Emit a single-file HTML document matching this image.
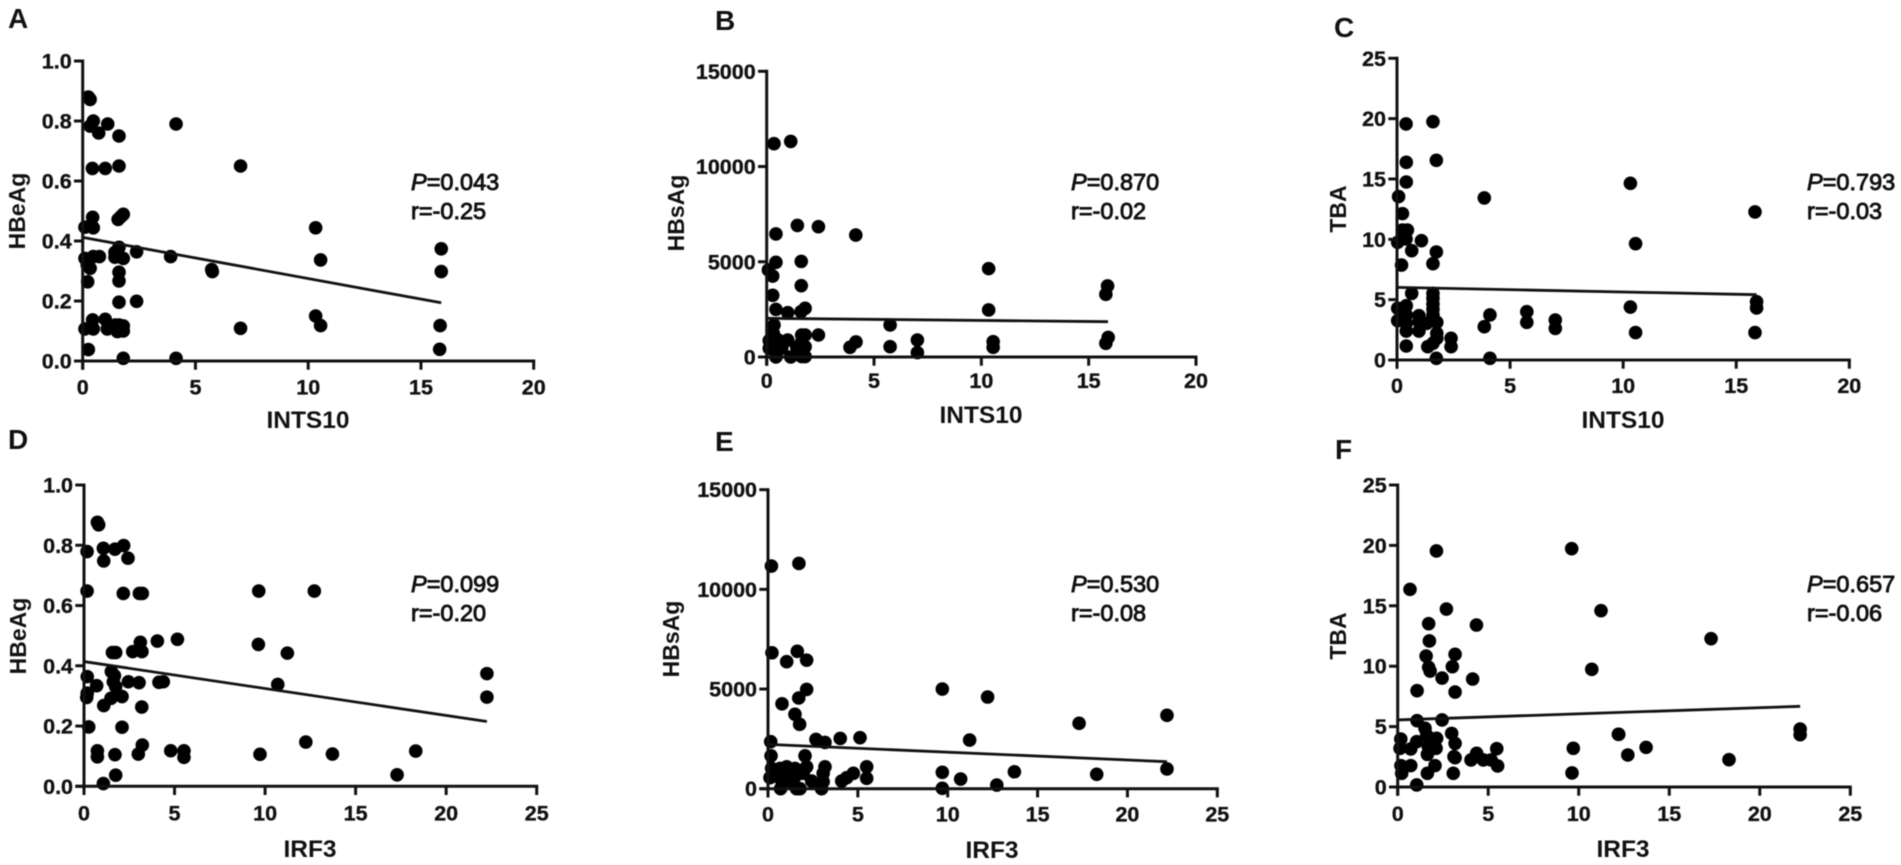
<!DOCTYPE html>
<html lang="en">
<head>
<meta charset="utf-8">
<title>Correlation scatter plots of INTS10 and IRF3 with HBeAg, HBsAg and TBA</title>
<style>
html,body{margin:0;padding:0;background:#fff;width:1901px;height:865px;overflow:hidden}
svg{display:block;filter:blur(0.4px)}
text{font-family:"Liberation Sans",Arial,sans-serif;fill:#111}
.tick{font-size:21.5px;font-weight:bold;stroke:#111;stroke-width:.35px}
.title{font-size:23px;font-weight:bold;text-anchor:middle}
.xtitle{font-size:24.5px}
.note{font-size:23.5px;stroke:#111;stroke-width:.9px}
.letter{font-size:28px;font-weight:bold}
</style>
</head>
<body>
<svg id="figure" width="1901" height="865" viewBox="0 0 1901 865" xmlns="http://www.w3.org/2000/svg">
  <rect x="0" y="0" width="1901" height="865" fill="#fff"/>

  <text class="letter" x="8" y="28">A</text>
  <text class="letter" x="715" y="30">B</text>
  <text class="letter" x="1334" y="37">C</text>
  <text class="letter" x="8" y="449">D</text>
  <text class="letter" x="715" y="451">E</text>
  <text class="letter" x="1335" y="459">F</text>

  <text class="title xtitle" x="308" y="428">INTS10</text>
  <text class="title xtitle" x="981" y="423">INTS10</text>
  <text class="title xtitle" x="1623" y="428">INTS10</text>
  <text class="title xtitle" x="310" y="857">IRF3</text>
  <text class="title xtitle" x="992" y="858">IRF3</text>
  <text class="title xtitle" x="1623" y="857">IRF3</text>

  <text class="title" transform="translate(25 211) rotate(-90)">HBeAg</text>
  <text class="title" transform="translate(684 213) rotate(-90)">HBsAg</text>
  <text class="title" transform="translate(1346 209) rotate(-90)">TBA</text>
  <text class="title" transform="translate(26 636) rotate(-90)">HBeAg</text>
  <text class="title" transform="translate(679 639) rotate(-90)">HBsAg</text>
  <text class="title" transform="translate(1346 636) rotate(-90)">TBA</text>

  <text class="note" x="411" y="190"><tspan font-style="italic">P</tspan>=0.043</text>
  <text class="note" x="411" y="219">r=-0.25</text>
  <text class="note" x="1071" y="190"><tspan font-style="italic">P</tspan>=0.870</text>
  <text class="note" x="1071" y="219">r=-0.02</text>
  <text class="note" x="1807" y="190"><tspan font-style="italic">P</tspan>=0.793</text>
  <text class="note" x="1807" y="219">r=-0.03</text>
  <text class="note" x="411" y="592"><tspan font-style="italic">P</tspan>=0.099</text>
  <text class="note" x="411" y="621">r=-0.20</text>
  <text class="note" x="1071" y="592"><tspan font-style="italic">P</tspan>=0.530</text>
  <text class="note" x="1071" y="621">r=-0.08</text>
  <text class="note" x="1807" y="592"><tspan font-style="italic">P</tspan>=0.657</text>
  <text class="note" x="1807" y="621">r=-0.06</text>
</svg>

<script>
// Tick labels
const ticksX20 = ['0', '5', '10', '15', '20'];
const ticksX25 = ['0', '5', '10', '15', '20', '25'];
const ticksHBeAg = ['0.0', '0.2', '0.4', '0.6', '0.8', '1.0'];
const ticksHBsAg = ['0', '5000', '10000', '15000'];
const ticksTBA = ['0', '5', '10', '15', '20', '25'];

// Panel A: INTS10 vs HBeAg
const aX = [0.25,0.33,0.47,0.33,0.71,1.11,1.61,4.14,7.0,0.43,1.0,1.61,1.8,1.69,1.57,0.44,0.1,0.47,1.61,2.39,1.43,3.9,0.1,0.47,0.74,1.43,1.8,5.72,5.75,0.33,0.2,1.61,1.61,0.22,1.61,2.39,0.44,1.0,1.61,1.8,1.45,0.1,0.47,1.09,1.54,1.8,7.0,0.25,1.8,4.14,10.33,10.55,10.33,10.55,15.9,15.9,15.85,15.83];
const aY = [0.88,0.872,0.80,0.783,0.76,0.79,0.75,0.79,0.65,0.642,0.642,0.65,0.489,0.481,0.472,0.479,0.446,0.444,0.379,0.364,0.362,0.348,0.342,0.348,0.348,0.346,0.342,0.305,0.298,0.309,0.32,0.296,0.267,0.264,0.196,0.199,0.137,0.139,0.12,0.117,0.12,0.107,0.107,0.107,0.098,0.1,0.109,0.038,0.009,0.009,0.444,0.337,0.15,0.118,0.374,0.298,0.118,0.039];
const aLineX = [0, 15.9];
const aLineY = [0.412, 0.194];

// Panel B: INTS10 vs HBsAg
const bX = [0.34,1.12,1.43,2.41,4.15,0.43,0.43,1.61,0.08,0.28,1.61,0.28,0.43,0.98,1.79,1.6,0.34,2.41,5.75,5.75,4.16,3.88,7.02,7.02,0.12,0.39,0.12,0.39,0.7,0.98,0.43,1.12,1.4,1.63,1.79,1.63,1.79,1.63,1.79,0.31,0.54,10.34,10.34,10.55,10.55,15.88,15.8,15.91,15.8];
const bY = [11200,11320,6910,6840,6400,6460,4970,5020,4570,4250,3745,3240,2500,2330,2555,2380,1680,1155,1680,540,790,510,890,230,860,860,455,455,455,890,0,0,510,1155,1155,800,540,20,20,1240,890,4640,2470,805,508,3730,3290,1030,720];
const bLineX = [0, 15.9];
const bLineY = [2030, 1855];

// Panel C: INTS10 vs TBA
const cX = [0.4,1.59,0.41,1.74,0.41,0.07,3.86,0.24,0.24,0.46,0.03,0.4,1.08,0.65,1.74,1.59,0.2,0.65,1.59,1.59,1.59,1.59,1.59,0.41,0.03,0.41,0.97,4.11,5.74,5.74,7.0,7.0,3.86,0.03,0.41,0.97,1.31,1.76,0.41,0.97,1.76,2.39,2.39,1.76,1.59,1.36,0.41,1.74,4.11,10.32,10.55,10.32,10.55,15.83,15.9,15.9,15.83];
const cY = [19.56,19.75,16.38,16.55,14.75,13.54,13.43,12.13,10.77,10.77,9.75,10.03,9.89,9.06,8.95,7.98,7.87,5.52,5.52,5.11,4.64,4.2,3.73,4.5,4.28,3.73,3.67,3.73,4.0,3.12,3.31,2.62,2.76,3.26,3.04,3.18,3.04,3.12,2.4,2.4,2.21,1.8,1.1,1.8,1.38,1.1,1.16,0.14,0.14,14.64,9.64,4.39,2.27,12.27,4.83,4.31,2.27];
const cLineX = [0, 15.9];
const cLineY = [6.02, 5.41];

// Panel D: IRF3 vs HBeAg
const dX = [0.74,0.81,0.17,1.07,1.71,2.19,2.43,1.09,0.17,2.17,3.06,3.22,9.65,9.63,11.23,5.16,4.05,3.11,3.2,2.69,1.57,1.75,1.51,1.68,0.18,1.62,2.45,3.04,0.7,4.14,4.38,10.7,1.75,0.18,0.15,1.49,2.1,1.09,3.19,0.26,2.1,3.22,0.74,0.74,1.71,3.0,4.79,5.52,5.52,9.72,1.75,1.07,12.72,12.25,13.72,17.29,18.32,22.25,22.25];
const dY = [0.876,0.868,0.779,0.79,0.787,0.799,0.757,0.748,0.648,0.64,0.64,0.64,0.648,0.471,0.442,0.488,0.482,0.478,0.447,0.447,0.444,0.444,0.381,0.367,0.364,0.347,0.347,0.344,0.334,0.345,0.347,0.338,0.331,0.309,0.295,0.292,0.298,0.268,0.263,0.197,0.196,0.137,0.118,0.098,0.105,0.107,0.118,0.118,0.096,0.106,0.037,0.009,0.648,0.147,0.107,0.038,0.117,0.374,0.296];
const dLineX = [0, 22.25];
const dLineY = [0.414, 0.215];

// Panel E: IRF3 vs HBsAg
const eX = [0.19,1.72,0.22,1.63,1.04,2.15,2.15,1.71,0.78,1.5,1.76,0.15,2.67,3.17,4.02,5.12,0.17,2.06,3.17,2.15,5.49,5.49,4.75,4.38,4.1,0.11,0.67,1.04,1.5,0.67,1.04,1.5,1.96,2.43,3.07,3.07,0.2,0.7,1.59,1.78,2.98,0.3,1.22,0.85,1.41,9.7,9.7,9.7,10.72,11.22,12.22,12.73,13.71,17.31,18.29,22.2,22.2];
const eY = [11170,11300,6820,6890,6370,6450,4980,4550,4260,3730,3230,2360,2470,2320,2520,2560,1650,1650,1100,1100,1100,520,770,550,385,550,1020,1100,1020,520,685,600,770,385,770,350,1020,0,0,0,0,685,520,350,270,5000,820,17,485,2440,4600,184,850,3280,720,3680,990];
const eLineX = [0, 22.2];
const eLineY = [2224, 1354];

// Panel F: IRF3 vs TBA
const fX = [2.14,9.61,0.68,2.69,11.23,1.71,4.35,1.75,1.57,3.17,1.71,3.02,1.79,10.72,2.45,4.14,1.07,3.17,1.07,2.45,1.51,1.6,2.98,2.15,0.17,1.05,3.17,12.19,0.13,0.72,2.12,1.69,5.47,3.11,4.36,1.64,4.05,4.73,5.16,5.52,3.17,0.18,0.72,2.06,1.64,0.22,3.07,9.7,9.63,1.05,17.31,12.21,12.71,13.72,18.3,22.23,22.23];
const fY = [19.54,19.73,16.36,14.73,14.6,13.52,13.41,12.09,10.84,10.98,9.91,9.96,9.6,9.74,9.02,8.94,7.97,7.86,5.49,5.55,4.86,4.3,4.44,4.03,3.97,3.75,3.61,4.36,3.2,3.15,3.2,3.34,3.17,2.51,2.79,2.7,2.24,2.24,2.24,1.74,2.43,1.77,1.77,1.77,1.13,1.13,1.13,3.2,1.16,0.17,12.28,4.36,2.65,3.28,2.26,4.8,4.33];
const fLineX = [0, 22.23];
const fLineY = [5.55, 6.68];

const SVG_NS = 'http://www.w3.org/2000/svg';
const figure = document.getElementById('figure');
const DOT_RADIUS = 6.8;
const TICK_LENGTH = 8.7;
const AXIS_WIDTH = 3;

function makeLine(parent, x1, y1, x2, y2, width) {
  const el = document.createElementNS(SVG_NS, 'line');
  el.setAttribute('x1', x1);
  el.setAttribute('y1', y1);
  el.setAttribute('x2', x2);
  el.setAttribute('y2', y2);
  el.setAttribute('stroke', '#111');
  el.setAttribute('stroke-width', width);
  parent.appendChild(el);
  return el;
}

function makeTick(parent, x, y, anchor, label) {
  const el = document.createElementNS(SVG_NS, 'text');
  el.setAttribute('class', 'tick');
  el.setAttribute('x', x);
  el.setAttribute('y', y);
  el.setAttribute('text-anchor', anchor);
  el.textContent = label;
  parent.appendChild(el);
  return el;
}

function drawPanel(id, box, xTicks, yTicks, xs, ys, lineX, lineY) {
  const xMax = parseFloat(xTicks[xTicks.length - 1]);
  const yMax = parseFloat(yTicks[yTicks.length - 1]);
  const sx = function (v) { return box.left + (v / xMax) * (box.right - box.left); };
  const sy = function (v) { return box.bottom - (v / yMax) * (box.bottom - box.top); };

  const group = document.createElementNS(SVG_NS, 'g');
  
  
  figure.appendChild(group);

  xs.forEach(function (v, i) {
    const dot = document.createElementNS(SVG_NS, 'circle');
    dot.setAttribute('cx', sx(v));
    dot.setAttribute('cy', sy(ys[i]));
    dot.setAttribute('r', DOT_RADIUS);
    dot.setAttribute('fill', '#000');
    
    
    group.appendChild(dot);
  });

  const yAxis = makeLine(group, box.left, box.top - AXIS_WIDTH / 2, box.left, box.bottom + TICK_LENGTH, AXIS_WIDTH);
  
  

  const xAxis = makeLine(group, box.left - TICK_LENGTH, box.bottom, box.right + AXIS_WIDTH / 2, box.bottom, AXIS_WIDTH);
  
  

  yTicks.forEach(function (label) {
    const y = sy(parseFloat(label));
    const mark = makeLine(group, box.left - TICK_LENGTH, y, box.left, y, AXIS_WIDTH);
    
    
    const text = makeTick(group, box.left - 11, y + 7.5, 'end', label);
    
    
  });

  xTicks.forEach(function (label) {
    const x = sx(parseFloat(label));
    const mark = makeLine(group, x, box.bottom, x, box.bottom + TICK_LENGTH, AXIS_WIDTH);
    
    
    const text = makeTick(group, x, box.bottom + box.tickDrop, 'middle', label);
    
    
  });

  const fit = makeLine(group, sx(lineX[0]), sy(lineY[0]), sx(lineX[1]), sy(lineY[1]), 2.8);
  
  
}

drawPanel('a', {left: 82.7, right: 533.7, bottom: 361, top: 61, tickDrop: 33.5}, ticksX20, ticksHBeAg, aX, aY, aLineX, aLineY);
drawPanel('b', {left: 766.7, right: 1196, bottom: 357, top: 71.3, tickDrop: 31}, ticksX20, ticksHBsAg, bX, bY, bLineX, bLineY);
drawPanel('c', {left: 1397, right: 1849.3, bottom: 360, top: 58.3, tickDrop: 33}, ticksX20, ticksTBA, cX, cY, cLineX, cLineY);
drawPanel('d', {left: 84, right: 536.7, bottom: 786.3, top: 485, tickDrop: 34}, ticksX25, ticksHBeAg, dX, dY, dLineX, dLineY);
drawPanel('e', {left: 768, right: 1217.3, bottom: 788.7, top: 489.7, tickDrop: 33}, ticksX25, ticksHBsAg, eX, eY, eLineX, eLineY);
drawPanel('f', {left: 1397.7, right: 1850.3, bottom: 787, top: 485, tickDrop: 34}, ticksX25, ticksTBA, fX, fY, fLineX, fLineY);
</script>
</body>
</html>
